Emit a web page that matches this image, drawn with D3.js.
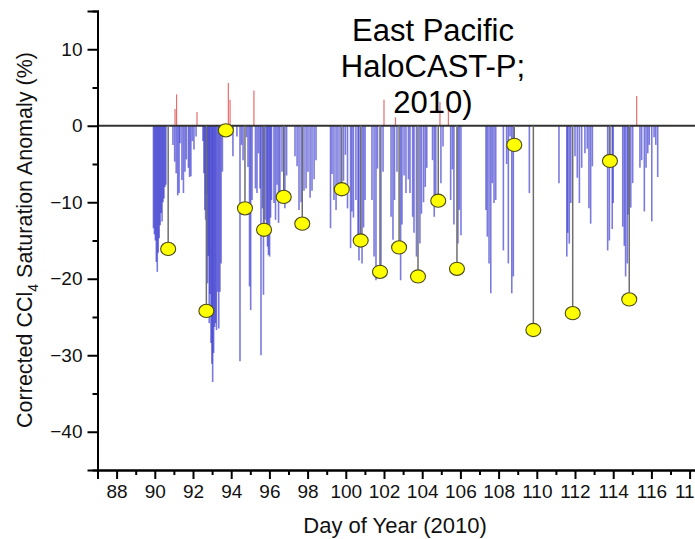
<!DOCTYPE html>
<html>
<head>
<meta charset="utf-8">
<script src="https://cdn.jsdelivr.net/npm/d3@7"></script>
<style>
  body { margin: 0; background: #fff; }
  svg { display: block; font-family: "Liberation Sans", Arial, sans-serif; }
</style>
</head>
<body>
<div class="chart"></div>
<script>
// Needle samples below zero: [day of year, anomaly %]
var blueNeedles = [
    [89.93,-13.4],[89.98,-14.2],[90.03,-15.0],[90.08,-17.8],[90.13,-19.1],[90.18,-16.6],[90.23,-14.7],[90.28,-13.0],[90.33,-11.4],[90.38,-12.5],[90.43,-10.0],[90.48,-9.5],[90.53,-8.0],[90.58,-7.7],
    [90.95,-2.5],[91.04,-4.7],[91.12,-6.2],[91.2,-9.1],[91.27,-8.8],[91.32,-2.3],[91.42,-7.1],[91.5,-8.8],[91.58,-6.0],[91.65,-4.4],[91.76,-5.5],[91.82,-6.7],[91.89,-6.6],[91.97,-2.0],[92.05,-3.1],[92.16,-1.4],
    [92.52,-2.0],[92.57,-6.2],[92.62,-11.0],[92.66,-12.3],[92.71,-9.0],[92.76,-20.6],[92.8,-17.0],[92.85,-25.8],[92.89,-22.0],[92.94,-28.4],[92.99,-31.1],[93.03,-33.5],[93.08,-29.7],[93.13,-26.3],[93.18,-25.8],[93.23,-26.7],[93.29,-21.7],[93.35,-26.5],[93.41,-21.7],[93.47,-18.0],[93.54,-6.0],
    [94.09,-4.0],[94.3,-1.4],
    [94.46,-30.8],[94.54,-2.5],[94.62,-4.5],[94.8,-1.5],[94.88,-5.4],[94.96,-21.0],[95.02,-24.1],[95.09,-9.7],
    [95.27,-8.2],[95.35,-8.8],[95.43,-3.6],[95.51,-8.2],[95.56,-30.0],[95.64,-10.8],[95.69,-22.1],[95.77,-12.3],[95.85,-13.6],[95.9,-15.8],[95.95,-16.9],[96.01,-17.1],[96.06,-12.0],[96.11,-9.7],
    [96.24,-10.1],[96.32,-12.3],[96.4,-7.7],[96.48,-12.7],[96.55,-10.1],[96.66,-6.0],[96.81,-10.8],[96.9,-6.5],
    [97.34,-4.0],[97.45,-5.3],[97.55,-11.0],[97.66,-10.0],[97.81,-8.5],[97.92,-8.2],[98.02,-6.0],[98.13,-9.4],[98.23,-8.5],[98.34,-7.0],[98.44,-4.5],
    [99.2,-13.4],[99.28,-6.3],[99.38,-9.7],[99.49,-11.0],[99.59,-9.0],[99.7,-7.6],[99.88,-7.2],[99.98,-3.8],[100.09,-10.8],
    [100.25,-16.0],[100.32,-11.2],[100.4,-12.0],[100.53,-9.7],[100.64,-15.5],[100.69,-17.6],[100.85,-18.0],[100.93,-13.3],[101.01,-9.7],
    [101.37,-9.7],[101.48,-17.1],[101.58,-20.2],[101.66,-5.6],[101.84,-18.5],[101.95,-6.0],
    [102.37,-11.9],[102.47,-14.9],[102.55,-9.7],[102.68,-6.0],[102.87,-20.2],[102.94,-12.9],[103.05,-6.5],[103.15,-8.8],
    [103.28,-7.0],[103.36,-8.8],[103.5,-11.9],[103.57,-14.0],[103.7,-17.1],[103.88,-15.4],[103.96,-11.5],[104.07,-10.0],[104.16,-8.0],[104.24,-5.5],
    [104.54,-4.5],[104.63,-11.9],[104.71,-9.7],[104.98,-7.5],[105.09,-2.7],
    [105.49,-9.7],[105.58,-5.7],[105.66,-12.9],[105.87,-15.4],[105.94,-11.0],[106.03,-14.3],
    [107.34,-11.0],[107.41,-14.5],[107.5,-18.0],[107.59,-21.9],[107.67,-7.5],[107.76,-10.1],[107.85,-9.7],
    [108.25,-16.3],[108.42,-5.0],[108.51,-18.0],[108.6,-1.4],[108.69,-21.9],[108.77,-19.7],[109.61,-8.8],
    [111.16,-7.5],[111.57,-17.1],[111.62,-14.0],[111.7,-15.4],[111.78,-10.1],[112.0,-4.0],[112.12,-6.8],[112.23,-10.1],[112.35,-5.5],[112.52,-3.6],[112.64,-3.0],[112.73,-10.8],[112.82,-12.8],[112.91,-5.3],
    [113.71,-16.3],[113.8,-15.0],[113.95,-13.5],[114.0,-10.1],
    [114.5,-13.2],[114.58,-15.7],[114.65,-19.7],[114.74,-18.0],[114.79,-11.6],[114.92,-10.7],[115.02,-7.5],
    [115.4,-5.5],[115.49,-4.5],[115.63,-11.2],[115.72,-5.5],[115.81,-3.6],[115.89,-2.5],[116.02,-12.5],[116.14,-1.5],[116.23,-2.5],[116.33,-6.7]
];

// Needle samples above zero
var redNeedles = [
    [91.06,2.2],[91.14,4.1],[92.21,1.8],[93.85,5.6],[93.94,3.4],[95.19,4.6],
    [102.0,3.4],[102.6,1.1],[104.93,3.1],[105.37,3.1],[115.23,3.9]
];

// Discrete samples (yellow circles)
var discreteDay = [90.7, 92.7, 93.72, 94.72, 95.72, 96.75, 97.72, 99.79, 100.78, 101.79, 102.79, 103.78, 104.84, 105.82, 108.82, 109.82, 111.88, 113.83, 114.84];
var discreteVal = [-16.1, -24.2, -0.6, -10.8, -13.6, -9.3, -12.8, -8.3, -15.0, -19.1, -15.9, -19.7, -9.8, -18.7, -2.5, -26.7, -24.5, -4.6, -22.7];

var xTickLabels = [88, 90, 92, 94, 96, 98, 100, 102, 104, 106, 108, 110, 112, 114, 116, 118];
var yTickLabels = [10, 0, -10, -20, -30, -40];
var titleLines = ["East Pacific", "HaloCAST-P;", "2010)"];

var w = 695,
    h = 539,
    left = 97.5,
    bottom = 470;

var svg = d3.select("div.chart").append("svg")
    .attr("width", w)
    .attr("height", h);

svg.append("rect")
    .attr("width", w)
    .attr("height", h)
    .attr("fill", "#fff");

var x = d3.scaleLinear().domain([87, 119]).range([left, left + 32 * 19.1]);
var y = d3.scaleLinear().domain([-45, 15]).range([bottom, 11]);

// needles
svg.append("g")
    .selectAll("line")
    .data(blueNeedles)
    .enter().append("line")
    .attr("x1", function(d) { return x(d[0]); })
    .attr("x2", function(d) { return x(d[0]); })
    .attr("y1", y(0))
    .attr("y2", function(d) { return y(d[1]); })
    .attr("stroke", "#2828cc")
    .attr("stroke-opacity", 0.62)
    .attr("stroke-width", 1.6);

svg.append("g")
    .selectAll("line")
    .data(redNeedles)
    .enter().append("line")
    .attr("x1", function(d) { return x(d[0]); })
    .attr("x2", function(d) { return x(d[0]); })
    .attr("y1", y(0))
    .attr("y2", function(d) { return y(d[1]); })
    .attr("stroke", "#e04848")
    .attr("stroke-opacity", 0.8)
    .attr("stroke-width", 1.2);

// zero line
svg.append("line")
    .attr("x1", left)
    .attr("x2", w)
    .attr("y1", y(0))
    .attr("y2", y(0))
    .attr("stroke", "#333")
    .attr("stroke-width", 2);

// stems + circles for discrete samples
var discrete = discreteDay.map(function(d, i) { return [d, discreteVal[i]]; });

svg.append("g")
    .selectAll("line")
    .data(discrete)
    .enter().append("line")
    .attr("x1", function(d) { return x(d[0]); })
    .attr("x2", function(d) { return x(d[0]); })
    .attr("y1", y(0))
    .attr("y2", function(d) { return y(d[1]); })
    .attr("stroke", "#6e6e6e")
    .attr("stroke-width", 1.5);

svg.append("g")
    .selectAll("ellipse")
    .data(discrete)
    .enter().append("ellipse")
    .attr("cx", function(d) { return x(d[0]); })
    .attr("cy", function(d) { return y(d[1]); })
    .attr("rx", 7.5)
    .attr("ry", 6.6)
    .attr("fill", "#ffff00")
    .attr("stroke", "#4a4a18")
    .attr("stroke-width", 1.1);

// axes
svg.append("g")
    .attr("transform", "translate(0," + bottom + ")")
    .call(d3.axisBottom(x).tickValues(xTickLabels).tickSize(9).tickPadding(6).tickFormat(d3.format("d")));
svg.append("g")
    .attr("transform", "translate(0," + bottom + ")")
    .call(d3.axisBottom(x).tickValues(d3.range(87, 120, 2)).tickSize(5).tickFormat(""));

svg.append("g")
    .attr("transform", "translate(" + left + ",0)")
    .call(d3.axisLeft(y).tickValues(yTickLabels).tickSize(10).tickPadding(5).tickFormat(d3.format("d")));
svg.append("g")
    .attr("transform", "translate(" + left + ",0)")
    .call(d3.axisLeft(y).tickValues([5, -5, -15, -25, -35]).tickSize(5).tickFormat(""));

svg.selectAll(".domain").attr("stroke", "#000").attr("stroke-width", 2);
svg.selectAll(".tick line").attr("stroke", "#000").attr("stroke-width", 2);
svg.selectAll(".tick text")
    .attr("font-family", "Liberation Sans, Arial, sans-serif")
    .attr("font-size", 19)
    .attr("fill", "#111");

// title
svg.append("g")
    .selectAll("text")
    .data(titleLines)
    .enter().append("text")
    .attr("x", 433)
    .attr("y", function(d, i) { return 41 + i * 36; })
    .attr("text-anchor", "middle")
    .attr("font-size", 31)
    .attr("fill", "#000")
    .text(function(d) { return d; });

// axis titles
svg.append("text")
    .attr("x", 395)
    .attr("y", 533)
    .attr("text-anchor", "middle")
    .attr("font-size", 22)
    .attr("fill", "#111")
    .text("Day of Year (2010)");

var yLabel = svg.append("text")
    .attr("transform", "translate(32,240) rotate(-90)")
    .attr("text-anchor", "middle")
    .attr("font-size", 21.5)
    .attr("fill", "#111");
yLabel.append("tspan").text("Corrected CCl");
yLabel.append("tspan").attr("font-size", 14).attr("dy", 6).text("4");
yLabel.append("tspan").attr("dy", -6).text(" Saturation Anomaly (%)");
</script>
</body>
</html>
